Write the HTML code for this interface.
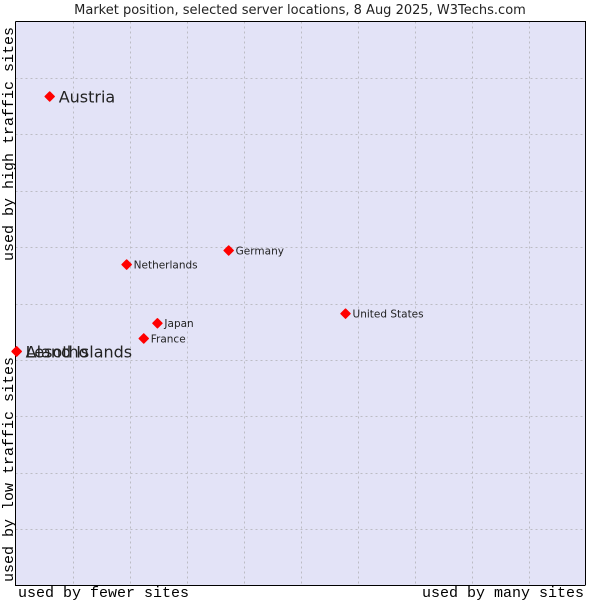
<!DOCTYPE html>
<html><head><meta charset="utf-8"><style>
body{margin:0;background:#fff;}
svg{display:block;font-family:"DejaVu Sans","Liberation Sans",sans-serif;}
.ax{font-family:"Liberation Mono","DejaVu Sans Mono",monospace;font-size:15px;fill:#000;}
</style></head><body>
<svg id="c" width="600" height="600">
<text x="300" y="14" text-anchor="middle" font-size="13" fill="#222">Market position, selected server locations, 8 Aug 2025, W3Techs.com</text>
<rect x="15.5" y="21.5" width="569.5" height="563.5" fill="#e3e3f7"/>
<g id="grid"></g>
<path d="M15.5 21.5 V585.5 H585" stroke="#000" stroke-width="1" fill="none"/>
<path d="M15.5 21.5 H585.5 V585.5" stroke="#000" stroke-width="1" fill="none"/>
<g id="pts"></g>
<text class="ax" x="18" y="597">used by fewer sites</text>
<text class="ax" x="584" y="597" text-anchor="end">used by many sites</text>
<text class="ax" transform="translate(13,582) rotate(-90)">used by low traffic sites</text>
<text class="ax" transform="translate(13,261) rotate(-90)">used by high traffic sites</text>
</svg>
<script>
const names=["Austria","Lesotho","Aland Islands","Netherlands","Germany","Japan","France","United States"];
const xVals=[6.0,0.2,0.2,19.5,37.4,24.9,22.5,57.9];
const yVals=[86.7,41.5,41.5,56.9,59.4,46.5,43.8,48.2];
const bigLabel=[true,true,true,false,false,false,false,false];
const L=15.5,R=585.5,T=21.5,B=585.5;
function sx(v){return L+(R-L)*v/100;}
function sy(v){return B-(B-T)*v/100;}
const ns="http://www.w3.org/2000/svg";
const g=document.getElementById('grid');
for(let i=1;i<10;i++){
  const a=document.createElementNS(ns,'line');
  const x=Math.round(sx(i*10))+0.5;
  a.setAttribute('x1',x);a.setAttribute('x2',x);a.setAttribute('y1',T);a.setAttribute('y2',B);
  a.setAttribute('stroke','#bcbcc4');a.setAttribute('stroke-dasharray','2,3');
  
  
  g.appendChild(a);
  const b=document.createElementNS(ns,'line');
  const y=Math.round(sy(i*10))+0.5;
  b.setAttribute('x1',L);b.setAttribute('x2',R);b.setAttribute('y1',y);b.setAttribute('y2',y);
  b.setAttribute('stroke','#bcbcc4');b.setAttribute('stroke-dasharray','2,3');
  
  
  g.appendChild(b);
}
const p=document.getElementById('pts');
names.forEach((n,i)=>{
  const x=sx(xVals[i]),y=sy(yVals[i]);
  const c=document.createElementNS(ns,'path');
  c.setAttribute('d',`M${x-4.5} ${y} L${x} ${y-4.5} L${x+4.5} ${y} L${x} ${y+4.5} Z`);
  c.setAttribute('fill','#ff0000');c.setAttribute('stroke','#ff0000');c.setAttribute('stroke-width','1.5');c.setAttribute('stroke-linejoin','round');
  
  
  p.appendChild(c);
  const t=document.createElementNS(ns,'text');
  t.setAttribute('x',x+(bigLabel[i]?9:7));
  t.setAttribute('y',y+(bigLabel[i]?6:4));
  t.setAttribute('font-size',bigLabel[i]?'16':'10.5');
  t.setAttribute('fill','#222');
  t.textContent=n;
  
  
  p.appendChild(t);
});
</script>
</body></html>
